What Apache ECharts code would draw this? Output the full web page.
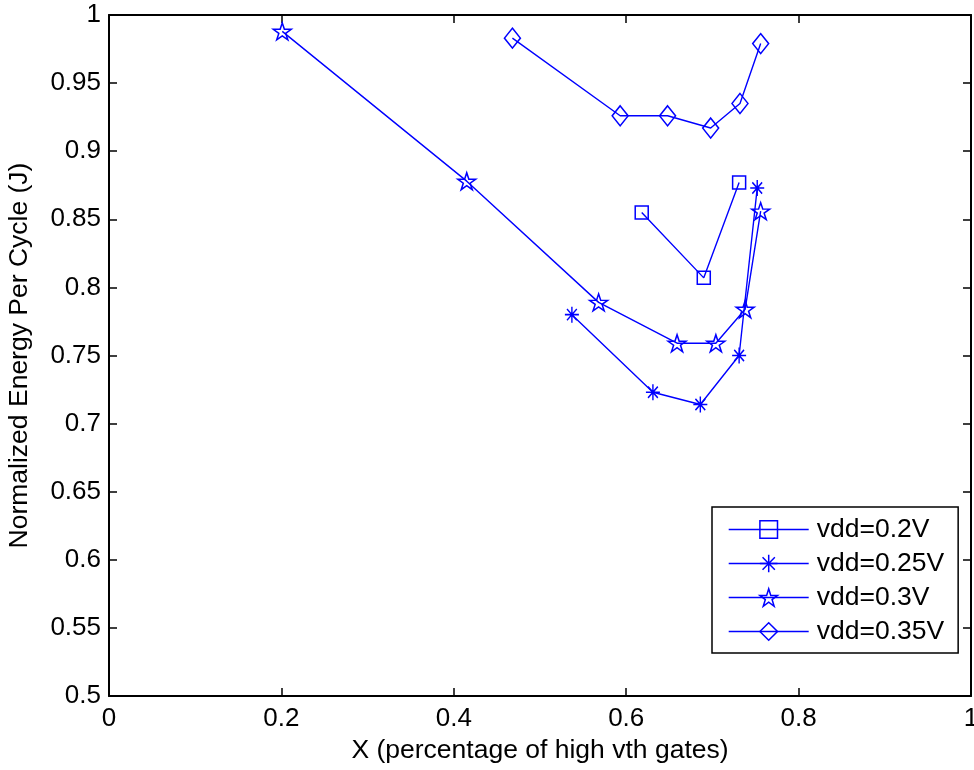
<!DOCTYPE html>
<html>
<head>
<meta charset="utf-8">
<style>
  html, body { margin: 0; padding: 0; background: #fff; }
  #chart { width: 974px; height: 770px; }
</style>
<script src="https://cdn.jsdelivr.net/npm/echarts@6/dist/echarts.min.js"></script>
</head>
<body>
<div id="chart"></div>
<script>
// Normalized energy per cycle versus fraction of high-vth gates, per supply voltage
const seriesNames = ['vdd=0.2V', 'vdd=0.25V', 'vdd=0.3V', 'vdd=0.35V'];

const xVdd020 = [0.618, 0.690, 0.731];
const yVdd020 = [0.855, 0.807, 0.877];

const xVdd025 = [0.537, 0.631, 0.686, 0.731, 0.752];
const yVdd025 = [0.780, 0.723, 0.714, 0.750, 0.873];

const xVdd030 = [0.201, 0.415, 0.568, 0.659, 0.704, 0.738, 0.756];
const yVdd030 = [0.988, 0.878, 0.789, 0.759, 0.759, 0.784, 0.856];

const xVdd035 = [0.468, 0.593, 0.648, 0.698, 0.732, 0.756];
const yVdd035 = [0.983, 0.926, 0.926, 0.917, 0.935, 0.979];

const xTicks = [0, 0.2, 0.4, 0.6, 0.8, 1];
const yTicks = [0.5, 0.55, 0.6, 0.65, 0.7, 0.75, 0.8, 0.85, 0.9, 0.95, 1];

const BLUE = '#0000ff';
const FONT = '"Liberation Sans", Arial, Helvetica, sans-serif';
const FS_TICK = 26;
const FS_TEXT = 26.5;

// Marker outlines
const STAR = 'path://M0,-100 L22.45,-30.9 L95.1,-30.9 L36.3,11.8 L58.8,80.9 L0,38.2 L-58.8,80.9 L-36.3,11.8 L-95.1,-30.9 L-22.45,-30.9 Z';
const ASTERISK = 'path://M0,-100 L0,100 M-100,0 L100,0 M-70,-70 L70,70 M-70,70 L70,-70';

function pairs(xs, ys) {
  return xs.map((x, i) => [x, ys[i]]);
}

function lineSeries(name, xs, ys, symbol, size) {
  return {
    name: name,
    type: 'line',
    data: pairs(xs, ys),
    symbol: symbol,
    symbolSize: size,
    showAllSymbol: true,
    color: BLUE,
    lineStyle: { color: BLUE, width: 1.4 },
    itemStyle: { color: 'rgba(0,0,0,0)', borderColor: BLUE, borderWidth: 1.5 },
    emphasis: { disabled: true },
    animation: false,
    z: 3
  };
}

const axisLine = { show: true, onZero: false, lineStyle: { color: '#000', width: 2 } };
const axisTick = { show: true, inside: true, length: 8, lineStyle: { color: '#000', width: 1.5 } };

const chart = echarts.init(document.getElementById('chart'), null, { renderer: 'canvas' });

chart.setOption({
  backgroundColor: '#fff',
  animation: false,
  textStyle: { fontFamily: FONT, color: '#000' },
  grid: { left: 109, right: 3, top: 15, bottom: 74, containLabel: false, outerBoundsMode: 'none' },
  xAxis: [
    {
      type: 'value', position: 'bottom',
      min: xTicks[0], max: xTicks[xTicks.length - 1], interval: 0.2,
      axisLine: axisLine, axisTick: axisTick, splitLine: { show: false },
      axisLabel: { color: '#000', fontSize: FS_TICK, fontFamily: FONT, margin: 10 },
      name: 'X (percentage of high vth gates)',
      nameLocation: 'middle', nameGap: 38,
      nameTextStyle: { color: '#000', fontSize: FS_TEXT, fontFamily: FONT }
    },
    {
      type: 'value', position: 'top',
      min: xTicks[0], max: xTicks[xTicks.length - 1], interval: 0.2,
      axisLine: axisLine, axisTick: axisTick, splitLine: { show: false },
      axisLabel: { show: false }
    }
  ],
  yAxis: [
    {
      type: 'value', position: 'left',
      min: yTicks[0], max: yTicks[yTicks.length - 1], interval: 0.05,
      axisLine: axisLine, axisTick: axisTick, splitLine: { show: false },
      axisLabel: { color: '#000', fontSize: FS_TICK, fontFamily: FONT, margin: 8,
        formatter: v => String(+v.toFixed(2)) },
      name: 'Normalized Energy Per Cycle (J)',
      nameLocation: 'middle', nameGap: 76,
      nameTextStyle: { color: '#000', fontSize: FS_TEXT, fontFamily: FONT }
    },
    {
      type: 'value', position: 'right',
      min: yTicks[0], max: yTicks[yTicks.length - 1], interval: 0.05,
      axisLine: axisLine, axisTick: axisTick, splitLine: { show: false },
      axisLabel: { show: false }
    }
  ],
  legend: {
    orient: 'vertical',
    left: 712, top: 507,
    data: seriesNames,
    backgroundColor: '#fff',
    borderColor: '#000', borderWidth: 1.5, borderRadius: 0,
    padding: [9, 14, 8, 16],
    itemWidth: 80, itemHeight: 22, itemGap: 7,
    selectedMode: false,
    textStyle: { color: '#000', fontSize: FS_TEXT, fontFamily: FONT, padding: [0, 0, 0, 3] },
    itemStyle: { color: 'rgba(0,0,0,0)', borderColor: BLUE, borderWidth: 1.5 },
    lineStyle: { color: BLUE, width: 1.4 }
  },
  series: [
    lineSeries(seriesNames[0], xVdd020, yVdd020, 'rect', 13),
    lineSeries(seriesNames[1], xVdd025, yVdd025, ASTERISK, [14, 16]),
    lineSeries(seriesNames[2], xVdd030, yVdd030, STAR, [18, 17]),
    lineSeries(seriesNames[3], xVdd035, yVdd035, 'diamond', [16, 20])
  ]
});
</script>
</body>
</html>
